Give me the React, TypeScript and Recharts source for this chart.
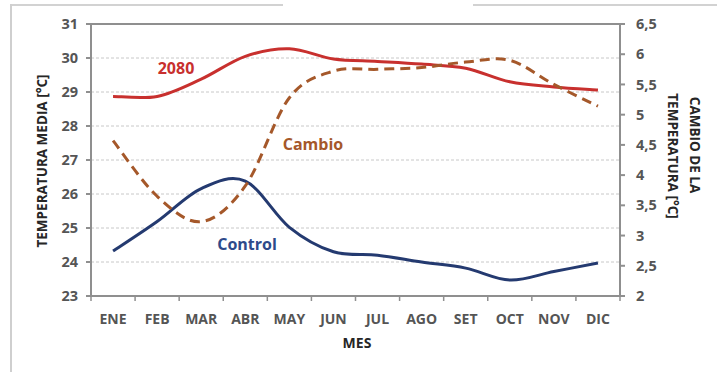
import React from 'react';
import { LineChart, Line, XAxis, YAxis, CartesianGrid, ReferenceLine } from 'recharts';

const months = ['ENE', 'FEB', 'MAR', 'ABR', 'MAY', 'JUN', 'JUL', 'AGO', 'SET', 'OCT', 'NOV', 'DIC'];
const serie2080 = [28.87, 28.87, 29.38, 30.05, 30.27, 29.97, 29.9, 29.82, 29.7, 29.3, 29.15, 29.06];
const serieControl = [24.32, 25.19, 26.16, 26.38, 25.02, 24.3, 24.2, 24.0, 23.82, 23.47, 23.72, 23.97];
const serieCambio = [4.57, 3.65, 3.23, 3.82, 5.28, 5.72, 5.75, 5.78, 5.87, 5.9, 5.5, 5.14];
const leftTicks = [23, 24, 25, 26, 27, 28, 29, 30, 31];
const rightTicks = [2, 2.5, 3, 3.5, 4, 4.5, 5, 5.5, 6, 6.5];

const data = months.map((m, i) => ({
  mes: m,
  f2080: serie2080[i],
  control: serieControl[i],
  cambio: serieCambio[i],
}));

const FONT = '"Open Sans", "Liberation Sans", sans-serif';
const TICK_COLOR = '#555555';
const AXIS_COLOR = '#8f8f8f';

// Catmull-Rom style smoothing (similar to spreadsheet smoothed lines)
function smoothCurve(context: any) {
  let pts: number[][] = [];
  return {
    areaStart() {},
    areaEnd() {},
    lineStart() { pts = []; },
    point(x: number, y: number) { pts.push([+x, +y]); },
    lineEnd() {
      if (!pts.length) return;
      context.moveTo(pts[0][0], pts[0][1]);
      if (pts.length === 1) return;
      for (let i = 0; i < pts.length - 1; i++) {
        const p0 = pts[i - 1] || pts[i];
        const p1 = pts[i];
        const p2 = pts[i + 1];
        const p3 = pts[i + 2] || pts[i + 1];
        const c1x = p1[0] + (p2[0] - p0[0]) / 6;
        const c1y = p1[1] + (p2[1] - p0[1]) / 6;
        const c2x = p2[0] - (p3[0] - p1[0]) / 6;
        const c2y = p2[1] - (p3[1] - p1[1]) / 6;
        context.bezierCurveTo(c1x, c1y, c2x, c2y, p2[0], p2[1]);
      }
    },
  };
}

const PLOT_W = 529;
const BAND = PLOT_W / 12;
const HALF = BAND / 2;

const XTick = (props: any) => {
  const { x, y, payload, index } = props;
  return (
    <g>
      <line x1={x - HALF} x2={x - HALF} y1={y} y2={y + 5} stroke={AXIS_COLOR} strokeWidth={1.5} />
      {index === 11 && (
        <line x1={x + HALF} x2={x + HALF} y1={y} y2={y + 5} stroke={AXIS_COLOR} strokeWidth={1.5} />
      )}
      <text x={x} y={y + 28} textAnchor="middle" fill={TICK_COLOR} fontSize={14} fontWeight={700} fontFamily={FONT}>
        {payload.value}
      </text>
    </g>
  );
};

export default function App() {
  return (
    <div style={{ position: 'absolute', left: 0, top: 0, width: 717, height: 372, background: '#fff', overflow: 'hidden' }}>
      <div style={{ position: 'absolute', left: 10, top: 4, width: 273, height: 2, background: '#d2d2d2' }} />
      <div style={{ position: 'absolute', left: 473, top: 4, width: 244, height: 2, background: '#d2d2d2' }} />
      <div style={{ position: 'absolute', left: 10, top: 4, width: 2, height: 368, background: '#cfcfcf' }} />
      <div style={{ position: 'absolute', left: 0, top: 0 }}>
        <LineChart width={717} height={372} data={data} margin={{ top: 24, right: 0, bottom: 0, left: 0 }}>
          <CartesianGrid yAxisId="left" horizontal vertical={false} stroke="#c8c8c8" strokeDasharray="3 2" />
          <XAxis
            dataKey="mes"
            height={76}
            tickLine={false}
            tickSize={0}
            tickMargin={0}
            interval={0}
            padding={{ left: HALF, right: HALF }}
            stroke={AXIS_COLOR}
            strokeWidth={2}
            tick={<XTick />}
          />
          <YAxis
            yAxisId="left"
            width={91}
            domain={[23, 31]}
            ticks={leftTicks}
            interval={0}
            stroke={AXIS_COLOR}
            strokeWidth={2}
            tickSize={5}
            tickMargin={8}
            tick={{ fill: TICK_COLOR, fontSize: 14.5, fontWeight: 700, fontFamily: FONT }}
          />
          <YAxis
            yAxisId="right"
            orientation="right"
            width={97}
            domain={[2, 6.5]}
            ticks={rightTicks}
            interval={0}
            stroke={AXIS_COLOR}
            strokeWidth={2}
            tickSize={5}
            tickMargin={11}
            tickFormatter={(v: number) => String(v).replace('.', ',')}
            tick={{ fill: TICK_COLOR, fontSize: 14.5, fontWeight: 700, fontFamily: FONT }}
          />
          <ReferenceLine yAxisId="left" y={31} stroke={AXIS_COLOR} strokeWidth={2} />
          <Line yAxisId="left" dataKey="f2080" type={smoothCurve as any} stroke="#c8302e" strokeWidth={3} dot={false} isAnimationActive={false} />
          <Line yAxisId="left" dataKey="control" type={smoothCurve as any} stroke="#243a70" strokeWidth={3} dot={false} isAnimationActive={false} />
          <Line yAxisId="right" dataKey="cambio" type={smoothCurve as any} stroke="#a5582a" strokeWidth={3} strokeDasharray="10 6" dot={false} isAnimationActive={false} />
        </LineChart>
      </div>
      <svg width={717} height={372} style={{ position: 'absolute', left: 0, top: 0, pointerEvents: 'none' }}>
        <g fontFamily={FONT} fontWeight={700}>
          <text x={176} y={74} textAnchor="middle" fontSize={16} fill="#c8302e">2080</text>
          <text x={313} y={150} textAnchor="middle" fontSize={16} fill="#a5582a">Cambio</text>
          <text x={247} y={250} textAnchor="middle" fontSize={16} fill="#2e4a8a">Control</text>
          <text x={357} y={348} textAnchor="middle" fontSize={14} fill="#262626">MES</text>
          <text transform="translate(47,161) rotate(-90)" textAnchor="middle" fontSize={13.5} fill="#262626">TEMPERATURA MEDIA [°C]</text>
          <text transform="translate(690,145) rotate(90)" textAnchor="middle" fontSize={13.5} fill="#262626">CAMBIO DE LA</text>
          <text transform="translate(668,156) rotate(90)" textAnchor="middle" fontSize={13.5} fill="#262626">TEMPERATURA [°C]</text>
        </g>
      </svg>
    </div>
  );
}
